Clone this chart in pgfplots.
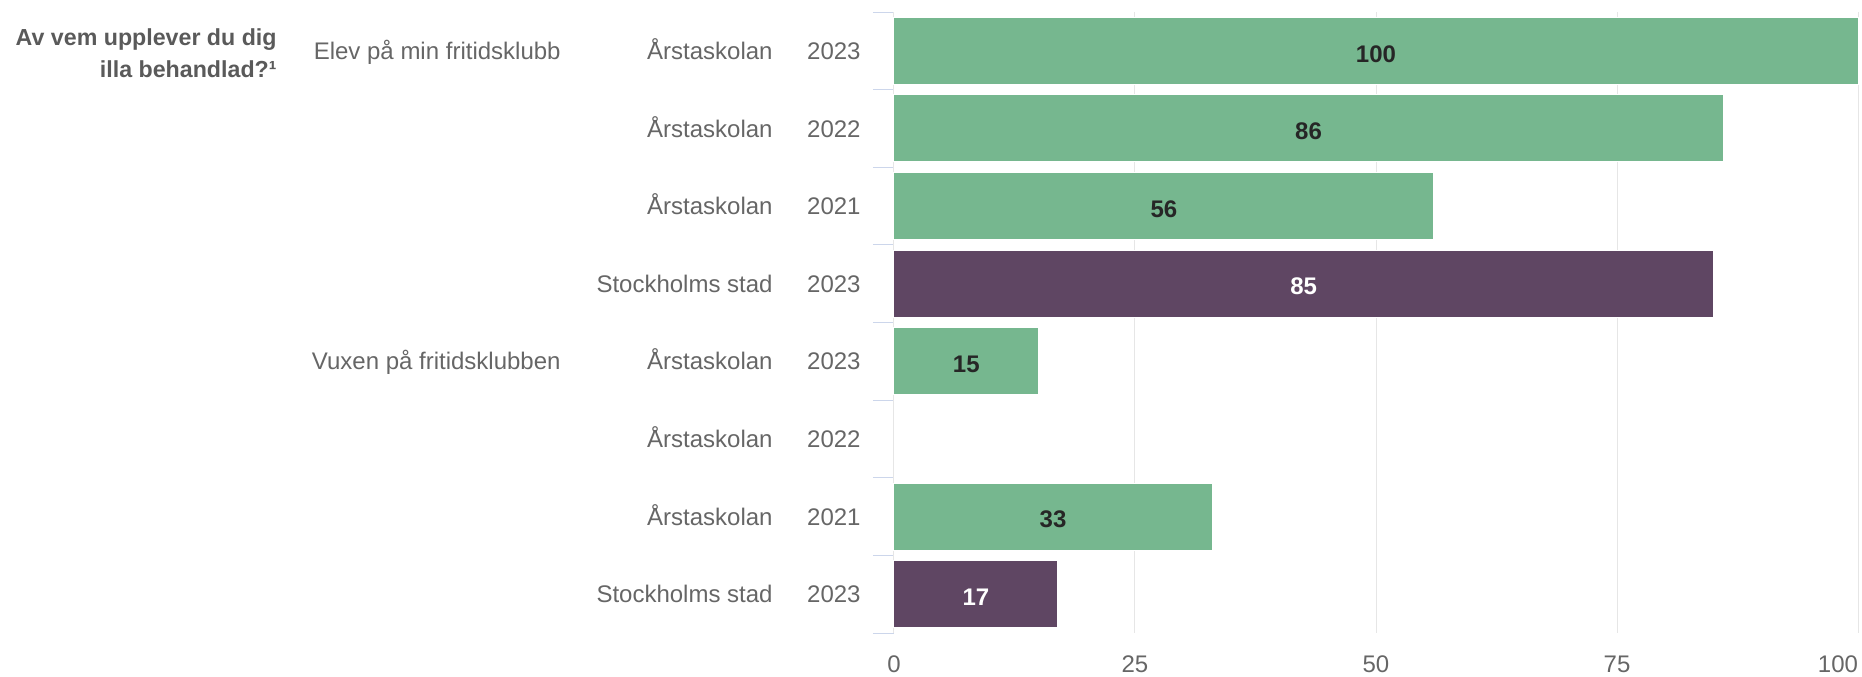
\documentclass[border=0pt]{standalone}
\usepackage{pgfplots}
\usepackage{pgfplotstable}
\pgfplotsset{compat=1.18}
\usepackage{fontspec}
\setmainfont{Liberation Sans}

\definecolor{barGreen}{HTML}{76B78F}
\definecolor{barPurple}{HTML}{5F4663}
\definecolor{labelGray}{HTML}{666666}
\definecolor{titleGray}{HTML}{5A5A5A}
\definecolor{gridGray}{HTML}{E6E6E6}
\definecolor{tickBlue}{HTML}{CCD6EB}

% rows 0..7 from top; row 5 (Vuxen, Årstaskolan 2022) has no value
\pgfplotstableread{
row v
0 100
1 86
2 56
4 15
6 33
}\schooldata
\pgfplotstableread{
row v
3 85
7 17
}\citydata

\newcommand{\cat}[2]{\makebox[0pt][r]{#1}\makebox[44pt][r]{#2}}

\begin{document}
\begin{tikzpicture}[font=\fontsize{12}{14}\selectfont]
\begin{axis}[
  at={(0,0)}, anchor=south west,
  scale only axis, width=482pt, height=310.5pt,
  xmin=0, xmax=100, ymin=-0.5, ymax=7.5, y dir=reverse,
  clip=false,
  axis lines*=left,
  x axis line style={draw=none},
  y axis line style={draw=gridGray, line width=0.5pt},
  xtick={0,25,50,75,100},
  xticklabels={0,25,50,75,\makebox[0pt][r]{100}},
  x tick style={draw=none},
  xticklabel style={text=labelGray, inner sep=0pt, text height=8.6pt, text depth=0pt, anchor=north, yshift=-0.5pt},
  xmajorgrids, grid style={gridGray, line width=0.5pt},
  ytick={-0.5,0.5,...,7.5},
  yticklabels={},
  ytick pos=left, tick align=outside, major tick length=10.5pt,
  y tick style={tickBlue, line width=0.5pt},
  extra y ticks={0,1,2,3,4,5,6,7},
  extra y tick labels={
    \cat{Årstaskolan}{2023},\cat{Årstaskolan}{2022},\cat{Årstaskolan}{2021},\cat{Stockholms stad}{2023},
    \cat{Årstaskolan}{2023},\cat{Årstaskolan}{2022},\cat{Årstaskolan}{2021},\cat{Stockholms stad}{2023}},
  extra y tick style={major tick length=0pt, tick style={draw=none}},
  yticklabel style={text=labelGray, inner sep=0pt, text height=8.6pt, text depth=0pt, anchor=east, xshift=-16.5pt},
]
\addplot[xbar, bar width=33.5pt, bar shift=0pt, fill=barGreen, draw=white, line width=0.5pt]
  table[x=v, y=row] {\schooldata};
\addplot[xbar, bar width=33.5pt, bar shift=0pt, fill=barPurple, draw=white, line width=0.5pt]
  table[x=v, y=row] {\citydata};

\addplot[draw=none, nodes near coords, point meta=explicit symbolic,
  nodes near coords style={anchor=center, yshift=-1.3pt, font=\fontsize{12}{14}\selectfont\bfseries, text=black!85, inner sep=0pt, text height=8.6pt, text depth=0pt}]
  table[x expr=\thisrow{v}/2, y=row, meta=v] {\schooldata};
\addplot[draw=none, nodes near coords, point meta=explicit symbolic,
  nodes near coords style={anchor=center, yshift=-1.3pt, font=\fontsize{12}{14}\selectfont\bfseries, text=white, inner sep=0pt, text height=8.6pt, text depth=0pt}]
  table[x expr=\thisrow{v}/2, y=row, meta=v] {\citydata};

\node[anchor=east, text=labelGray, inner sep=0pt, text height=8.6pt, text depth=0pt]
  at ([xshift=-166.5pt]axis cs:0,0) {Elev på min fritidsklubb};
\node[anchor=east, text=labelGray, inner sep=0pt, text height=8.6pt, text depth=0pt]
  at ([xshift=-166.5pt]axis cs:0,4) {Vuxen på fritidsklubben};
\end{axis}

\node[anchor=base east, font=\fontsize{11.6}{14}\selectfont\bfseries, text=titleGray, inner sep=0pt]
  at (-308.5pt,293.5pt) {Av vem upplever du dig};
\node[anchor=base east, font=\fontsize{11.6}{14}\selectfont\bfseries, text=titleGray, inner sep=0pt]
  at (-308.5pt,277.8pt) {illa behandlad?¹};

\pgfresetboundingbox
\path[use as bounding box] (-447pt,-21.5pt) rectangle (484pt,316.5pt);
\end{tikzpicture}
\end{document}
